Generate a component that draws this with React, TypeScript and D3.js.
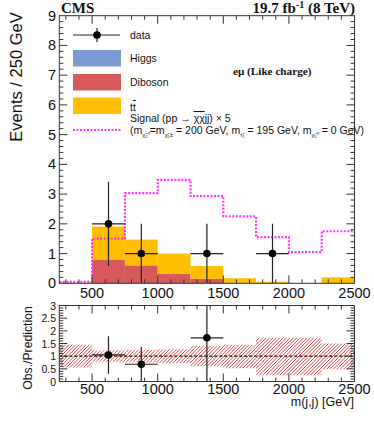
import React from "react";
import * as d3 from "d3";

const binEdges = [250, 500, 750, 1000, 1250, 1500, 1750, 2000, 2250, 2500];
const higgs = [0, 0.01, 0.01, 0, 0, 0, 0, 0, 0];
const diboson = [0, 0.8, 0.6, 0.33, 0.15, 0.02, 0.01, 0.01, 0];
const ttbar = [0.02, 1.1, 0.86, 0.67, 0.43, 0.15, 0.04, 0, 0.2];
const signal = [0.05, 1.5, 3.03, 3.48, 2.93, 2.25, 1.55, 1.05, 1.75];
const dataX = [625, 875, 1375, 1875];
const dataY = [2, 1, 1, 1];
const uncLow = [0.55, 0.78, 0.75, 0.73, 0.6, 0.52, 0.25, 0.25, 0.48];
const uncHigh = [1.45, 1.22, 1.25, 1.27, 1.4, 1.45, 1.73, 1.73, 1.5];
const xTicks = [500, 1000, 1500, 2000, 2500];
const yMainTicks = [0, 1, 2, 3, 4, 5, 6, 7, 8, 9];
const yRatioTicks = [0, 0.5, 1, 1.5, 2, 2.5, 3];
const yRatioLabels = ["0", "0.5", "1", "1.5", "2", "2.5", "3"];

const COL_HIGGS = "#7b9ad4";
const COL_DIB = "#d65a5a";
const COL_TT = "#ffbe00";
const COL_SIG = "#ff33ff";
const COL_HATCH = "#d83a3a";
const SANS = "'Liberation Sans', Arial, sans-serif";
const SERIF = "'Liberation Serif', 'Times New Roman', serif";

const L = 59.3, R = 354.5;
const MT = 15.7, MB = 283.3;
const RT = 305.5, RB = 381.5;

export default function App() {
  const x = d3.scaleLinear().domain([250, 2500]).range([L, R]);
  const y = d3.scaleLinear().domain([0, 9]).range([MB, MT]);
  const yr = d3.scaleLinear().domain([0, 3]).range([RB, RT]);

  const bins = binEdges.slice(0, -1).map((lo, i) => ({ lo, hi: binEdges[i + 1], i }));
  const table = bins.map((b) => ({ diboson: diboson[b.i], higgs: higgs[b.i], tt: ttbar[b.i] }));
  const stack = d3.stack<any>().keys(["diboson", "higgs", "tt"])(table);
  const colors: Record<string, string> = { diboson: COL_DIB, higgs: COL_HIGGS, tt: COL_TT };
  const totals = table.map((t) => t.diboson + t.higgs + t.tt);

  const sigPts = bins.map((b) => [b.lo, signal[b.i]] as [number, number]);
  sigPts.push([2500, signal[signal.length - 1]]);
  const sigLine = d3.line<[number, number]>().x((d) => x(d[0])).y((d) => y(d[1])).curve(d3.curveStepAfter)(sigPts) || "";

  const binOf = (v: number) => bins.findIndex((b) => v >= b.lo && v < b.hi);

  const ticksX = (top: number, bot: number) => {
    const out: any[] = [];
    for (let v = 300; v < 2500; v += 100) {
      const major = v % 500 === 0;
      const len = major ? 8 : 4;
      out.push(<line key={"b" + v + top} x1={x(v)} x2={x(v)} y1={bot} y2={bot - len} stroke="#333" strokeWidth={1} />);
      out.push(<line key={"t" + v + top} x1={x(v)} x2={x(v)} y1={top} y2={top + len} stroke="#333" strokeWidth={1} />);
    }
    return out;
  };

  const ticksY = (scale: any, max: number, step: number, majorStep: number, key: string) => {
    const out: any[] = [];
    const n = Math.round(max / step);
    for (let k = 1; k < n; k++) {
      const v = k * step;
      const major = Math.abs(v / majorStep - Math.round(v / majorStep)) < 1e-6;
      const len = major ? 8 : 4;
      out.push(<line key={key + "l" + k} x1={L} x2={L + len} y1={scale(v)} y2={scale(v)} stroke="#333" strokeWidth={1} />);
      out.push(<line key={key + "r" + k} x1={R} x2={R - len} y1={scale(v)} y2={scale(v)} stroke="#333" strokeWidth={1} />);
    }
    return out;
  };

  const ratioPts = dataX
    .map((v, k) => {
      const i = binOf(v);
      const t = totals[i];
      return { v, i, r: dataY[k] / t, e: Math.sqrt(dataY[k]) / t };
    })
    .filter((p) => p.r <= 3);

  const hatchLines: any[] = [];
  const H = RB - RT;
  for (let k = -Math.ceil(H / 3.4) - 2; k * 3.4 < R - L + 4; k++) {
    const x0 = L + k * 3.4;
    hatchLines.push(<line key={"h" + k} x1={x0} y1={RB} x2={x0 + H} y2={RT} stroke={COL_HATCH} strokeWidth={0.9} />);
  }

  return (
    <svg width={374} height={432} style={{ position: "absolute", left: 0, top: 0, background: "#fff" }}>
      <defs>
        <clipPath id="mainClip"><rect x={L} y={MT} width={R - L} height={MB - MT} /></clipPath>
        <clipPath id="ratioClip"><rect x={L} y={RT} width={R - L} height={RB - RT} /></clipPath>
        <clipPath id="bandClip">
          {bins.map((b) => (
            <rect key={"bc" + b.i} x={x(b.lo)} width={x(b.hi) - x(b.lo) + 0.01} y={yr(uncHigh[b.i])} height={yr(uncLow[b.i]) - yr(uncHigh[b.i])} />
          ))}
        </clipPath>
      </defs>

      {/* main panel stacks */}
      <g clipPath="url(#mainClip)">
        {stack.map((s) =>
          s.map((d, i) => (
            d[1] - d[0] > 0 ? (
              <rect key={s.key + i} x={x(bins[i].lo)} width={x(bins[i].hi) - x(bins[i].lo)} y={y(d[1])} height={y(d[0]) - y(d[1])} fill={colors[s.key]} />
            ) : null
          ))
        )}
        <path d={sigLine} fill="none" stroke={COL_SIG} strokeWidth={2.2} strokeDasharray="2,1.5" />
        {dataX.map((v, k) => {
          const i = binOf(v);
          const e = Math.sqrt(dataY[k]);
          return (
            <g key={"d" + k}>
              <line x1={x(bins[i].lo)} x2={x(bins[i].hi)} y1={y(dataY[k])} y2={y(dataY[k])} stroke="#222" strokeWidth={1.2} />
              <line x1={x(v)} x2={x(v)} y1={y(dataY[k] - e)} y2={y(dataY[k] + e)} stroke="#222" strokeWidth={1.2} />
              <circle cx={x(v)} cy={y(dataY[k])} r={3.8} fill="#000" />
            </g>
          );
        })}
      </g>
      {ticksX(MT, MB)}
      {ticksY(y, 9, 0.2, 1, "m")}
      <rect x={L} y={MT} width={R - L} height={MB - MT} fill="none" stroke="#333" strokeWidth={1} />
      {xTicks.map((v) => (
        <text key={"xl" + v} x={x(v)} y={298} textAnchor="middle" fontFamily={SANS} fontSize={14.5} fill="#111">{v}</text>
      ))}
      {yMainTicks.map((v) => (
        <text key={"yl" + v} x={56} y={y(v) + 5} textAnchor="end" fontFamily={SANS} fontSize={14.5} fill="#111">{v}</text>
      ))}
      <text transform="translate(22,77) rotate(-90)" textAnchor="middle" fontFamily={SANS} fontSize={16.5} fill="#111">Events / 250 GeV</text>

      <text x={61} y={13} fontFamily={SERIF} fontWeight="bold" fontSize={15} fill="#111">CMS</text>
      <text x={355} y={13} textAnchor="end" fontFamily={SERIF} fontWeight="bold" fontSize={15} fill="#111">
        19.7 fb<tspan dy={-5} fontSize={10}>-1</tspan><tspan dy={5}> (8 TeV)</tspan>
      </text>
      <text x={233} y={75} fontFamily={SERIF} fontWeight="bold" fontSize={11.2} fill="#111">eμ (Like charge)</text>

      {/* legend */}
      <g fontFamily={SANS} fontSize={10.5} fill="#111">
        <line x1={73} x2={120} y1={35} y2={35} stroke="#222" strokeWidth={1.2} />
        <line x1={97} x2={97} y1={28} y2={42} stroke="#222" strokeWidth={1.2} />
        <circle cx={97} cy={35} r={3.8} fill="#000" />
        <text x={130} y={39}>data</text>
        <rect x={73} y={50} width={48} height={16.5} fill={COL_HIGGS} />
        <text x={130} y={62}>Higgs</text>
        <rect x={73} y={74} width={48} height={16.5} fill={COL_DIB} />
        <text x={130} y={86}>Diboson</text>
        <rect x={73} y={97.5} width={48} height={16.5} fill={COL_TT} />
        <text x={130} y={111}>t<tspan textDecoration="overline">t</tspan></text>
        <text x={130} y={122}>Signal (pp → <tspan textDecoration="overline">χχ</tspan>jj) × 5</text>
        <line x1={73} x2={121} y1={130} y2={130} stroke={COL_SIG} strokeWidth={2.2} strokeDasharray="2,1.5" />
        <text x={130} y={134}>
          (m<tspan fontSize={6} dy={3}>χ̃₂⁰</tspan><tspan dy={-3}>=m</tspan><tspan fontSize={6} dy={3}>χ̃₁±</tspan><tspan dy={-3}> = 200 GeV, m</tspan><tspan fontSize={6} dy={3}>τ̃₁</tspan><tspan dy={-3}> = 195 GeV, m</tspan><tspan fontSize={6} dy={3}>χ̃₁⁰</tspan><tspan dy={-3}> = 0 GeV)</tspan>
        </text>
      </g>

      {/* ratio panel */}
      <g clipPath="url(#bandClip)">{hatchLines}</g>
      <g clipPath="url(#ratioClip)">
        <line x1={L} x2={R} y1={yr(1)} y2={yr(1)} stroke="#111" strokeWidth={1.1} strokeDasharray="3,2" />
        {ratioPts.map((p) => (
          <g key={"r" + p.v}>
            <line x1={x(bins[p.i].lo)} x2={x(bins[p.i].hi)} y1={yr(p.r)} y2={yr(p.r)} stroke="#222" strokeWidth={1.2} />
            <line x1={x(p.v)} x2={x(p.v)} y1={yr(Math.max(0, p.r - p.e))} y2={yr(p.r + p.e)} stroke="#222" strokeWidth={1.2} />
            <circle cx={x(p.v)} cy={yr(p.r)} r={3.8} fill="#000" />
          </g>
        ))}
      </g>
      {ticksX(RT, RB)}
      {ticksY(yr, 3, 0.1, 0.5, "r")}
      <rect x={L} y={RT} width={R - L} height={RB - RT} fill="none" stroke="#333" strokeWidth={1} />
      {xTicks.map((v) => (
        <text key={"rxl" + v} x={x(v)} y={394} textAnchor="middle" fontFamily={SANS} fontSize={14.5} fill="#111">{v}</text>
      ))}
      {yRatioTicks.map((v, k) => (
        <text key={"ryl" + v} x={56} y={yr(v) + 4} textAnchor="end" fontFamily={SANS} fontSize={10.5} fill="#111">{yRatioLabels[k]}</text>
      ))}
      <text transform="translate(32,348) rotate(-90)" textAnchor="middle" fontFamily={SANS} fontSize={12.2} fill="#111">Obs./Prediction</text>
      <text x={354} y={406} textAnchor="end" fontFamily={SANS} fontSize={12.5} fill="#111">m(j,j) [GeV]</text>
    </svg>
  );
}
